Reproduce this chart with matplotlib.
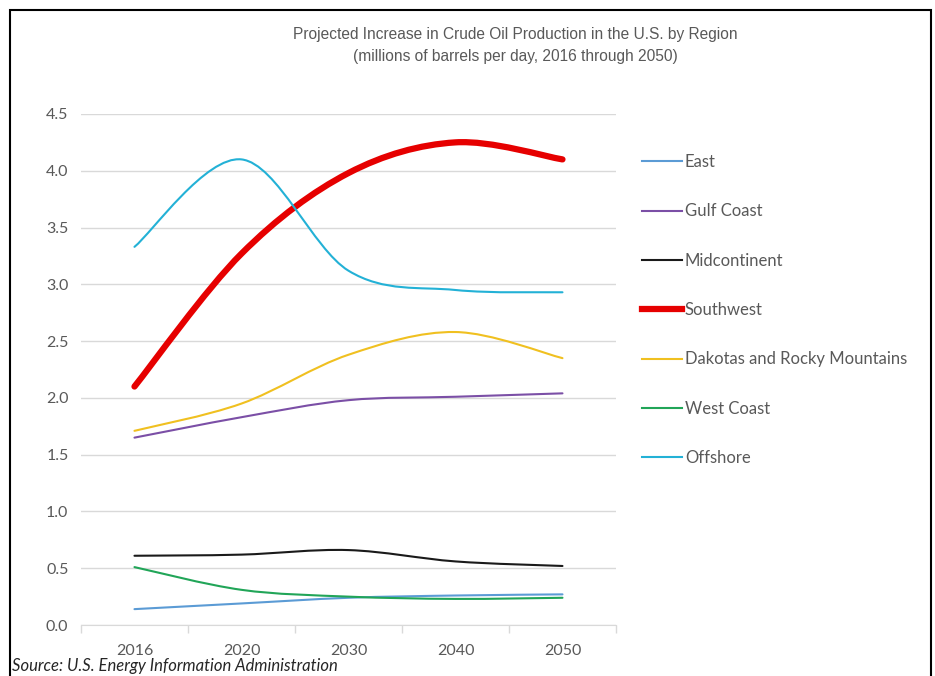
"""Projected increase in U.S. crude oil production by region (smoothed lines)."""

import matplotlib

matplotlib.use("Agg")
import matplotlib.pyplot as plt
from matplotlib.lines import Line2D
from matplotlib.patches import PathPatch, Rectangle
from matplotlib.path import Path

years = ["2016", "2020", "2030", "2040", "2050"]
y_ticks = [0.0, 0.5, 1.0, 1.5, 2.0, 2.5, 3.0, 3.5, 4.0, 4.5]

regions = ["East", "Gulf Coast", "Midcontinent", "Southwest",
           "Dakotas and Rocky Mountains", "West Coast", "Offshore"]
east = [0.14, 0.19, 0.24, 0.26, 0.27]
gulf_coast = [1.65, 1.83, 1.98, 2.01, 2.04]
midcontinent = [0.61, 0.62, 0.66, 0.56, 0.52]
southwest = [2.10, 3.27, 3.98, 4.25, 4.10]
dakotas = [1.71, 1.95, 2.38, 2.58, 2.35]
west_coast = [0.51, 0.31, 0.25, 0.23, 0.24]
offshore = [3.33, 4.10, 3.12, 2.95, 2.93]

series = [east, gulf_coast, midcontinent, southwest, dakotas, west_coast, offshore]
colors = ["#5b9bd5", "#7b4fa6", "#1a1a1a", "#e60000", "#f0c020", "#21a558", "#23b1d6"]
widths = [1.5, 1.5, 1.5, 4.5, 1.5, 1.5, 1.5]

GRAY = "#595959"


def smooth_path(xs, ys):
    """Excel-style smoothed line as a chain of cubic Bezier segments."""
    pts = list(zip(xs, ys))
    n = len(pts)
    verts = [pts[0]]
    codes = [Path.MOVETO]
    for i in range(n - 1):
        p0 = pts[max(i - 1, 0)]
        p1 = pts[i]
        p2 = pts[i + 1]
        p3 = pts[min(i + 2, n - 1)]
        c1 = (p1[0] + (p2[0] - p0[0]) / 6, p1[1] + (p2[1] - p0[1]) / 6)
        c2 = (p2[0] - (p3[0] - p1[0]) / 6, p2[1] - (p3[1] - p1[1]) / 6)
        verts += [c1, c2, p2]
        codes += [Path.CURVE4] * 3
    return Path(verts, codes)


plt.rcParams["font.family"] = ["Lato", "DejaVu Sans"]

fig = plt.figure(figsize=(9.35, 6.76), dpi=100)
ax = fig.add_axes([0.0866, 0.0754, 0.5722, 0.756])

x = list(range(len(years)))
for vals, col, lw in zip(series, colors, widths):
    patch = PathPatch(smooth_path(x, vals), fill=False, edgecolor=col,
                      linewidth=lw, capstyle="round", joinstyle="round")
    ax.add_patch(patch)

ax.set_xlim(-0.5, len(years) - 0.5)
ax.set_ylim(0, 4.5)
ax.set_yticks(y_ticks)
ax.set_yticklabels([f"{v:.1f}" for v in y_ticks])
ax.set_xticks(x)
ax.set_xticklabels(years)
ax.set_xticks([i - 0.5 for i in range(len(years) + 1)], minor=True)
ax.tick_params(axis="x", which="major", length=0, pad=14, labelsize=11.5, labelcolor=GRAY)
ax.tick_params(axis="x", which="minor", length=6, color="#d9d9d9", width=1)
ax.tick_params(axis="y", length=0, pad=9, labelsize=11.5, labelcolor=GRAY)
ax.grid(axis="y", color="#d9d9d9", linewidth=1)
ax.set_axisbelow(True)
for side in ["left", "right", "top"]:
    ax.spines[side].set_visible(False)
ax.spines["bottom"].set_color("#d9d9d9")

fig.text(0.551, 0.960, "Projected Increase in Crude Oil Production in the U.S. by Region\n"
         "(millions of barrels per day, 2016 through 2050)",
         ha="center", va="top", fontsize=11.2, color=GRAY,
         family=["Liberation Sans Narrow", "Liberation Sans", "DejaVu Sans"],
         linespacing=1.55)

handles = [Line2D([], [], color=c, linewidth=lw) for c, lw in zip(colors, widths)]
fig.legend(handles, regions, loc="upper left", bbox_to_anchor=(0.679, 0.782),
           frameon=False, fontsize=12, labelcolor=GRAY, handlelength=2.4,
           handletextpad=0.2, labelspacing=2.0, borderaxespad=0)

fig.text(0.013, 0.003, "Source: U.S. Energy Information Administration",
         ha="left", va="bottom", fontsize=12, style="italic", color="#262626")

fig.patches.append(Rectangle((0.011, -0.05), 0.985, 1.035, transform=fig.transFigure,
                             fill=False, edgecolor="black", linewidth=1.5))

fig.savefig("out.png", dpi=100)
